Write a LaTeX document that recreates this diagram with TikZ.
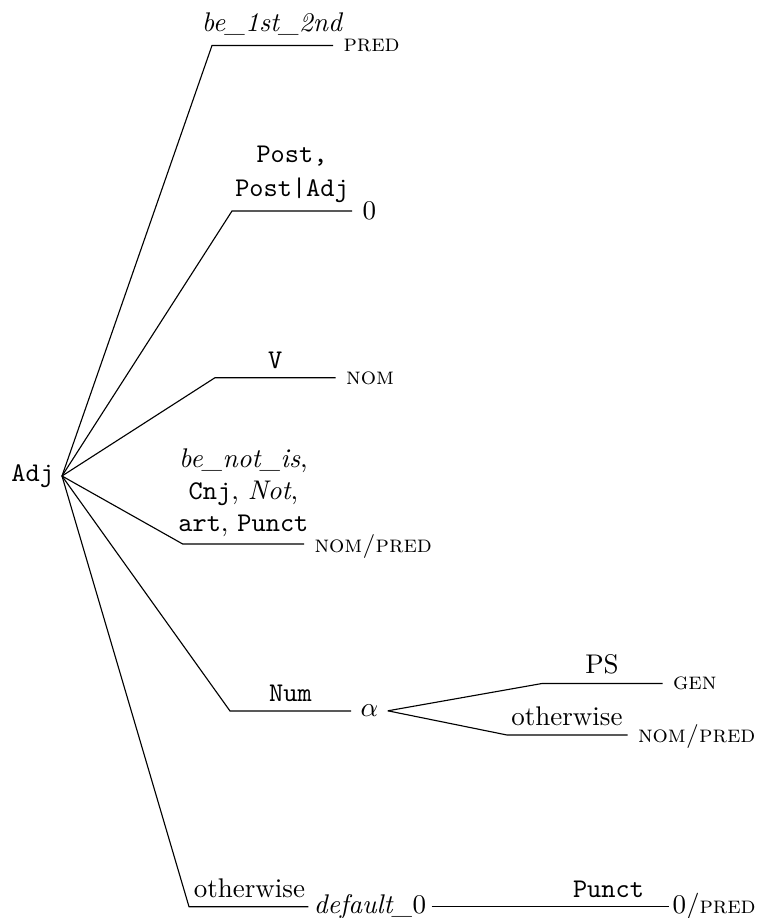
\documentclass[tikz,border=0pt]{standalone}
\newcommand\lsc[1]{{\fontsize{9.6}{11}\selectfont\textsc{#1}}}
\begin{document}
\begin{tikzpicture}[x=0.4pt,y=-0.4pt,
  every node/.style={font=\fontsize{10.8}{13}\selectfont},
  lab/.style={anchor=base, inner sep=0pt, align=center},
  leaf/.style={anchor=base west, inner xsep=4pt, inner ysep=0pt},
  mid/.style={anchor=base, inner xsep=2pt, inner ysep=0pt},
  br/.style={line width=0.45pt}]
\useasboundingbox (0,0) rectangle (756,918);
% root
\node[anchor=east, inner xsep=3pt, inner ysep=0pt] (adj) at (62,476) {\texttt{Adj}};
% corners
\coordinate (c1) at (212,45.5);
\coordinate (c2) at (232,211);
\coordinate (c3) at (215,377.7);
\coordinate (c4) at (182.7,544);
\coordinate (c5) at (230,711);
\coordinate (c5a) at (542,683.5);
\coordinate (c5b) at (507,735);
\coordinate (c6) at (189,906.7);
\coordinate (c7) at (548,906.7);
% leaves and inner nodes
\node[leaf] (l1) at (333,52) {\lsc{pred}};
\node[leaf] (l2) at (352,220) {0};
\node[leaf] (l3) at (335.7,384) {\lsc{nom}};
\node[leaf] (l4) at (304,552) {\lsc{nom/pred}};
\node[mid, inner xsep=3.6pt] (al) at (369.5,716.7) {$\alpha$};
\node[leaf] (l5a) at (662.5,689) {\lsc{gen}};
\node[leaf] (l5b) at (627.5,742) {\lsc{nom/pred}};
\node[mid] (df) at (370,913) {\textit{default\_}0};
\node[leaf, inner xsep=1.2pt] (l7) at (669,913) {0/\lsc{pred}};
% edge labels
\node[lab] (t1) at (272.5,32) {\textit{be\_1st\_2nd}};
\node[lab, font=\fontsize{10.8}{13.6}\selectfont] (t2) at (292,197) {\texttt{Post,}\\\texttt{Post|Adj}};
\node[lab] (t3) at (275.3,368) {\texttt{V}};
\node[lab, font=\fontsize{10.8}{12.8}\selectfont] (t4) at (243.4,531.7) {\textit{be\_not\_is},\\\texttt{Cnj}, \textit{Not},\\\texttt{art}, \texttt{Punct}};
\node[lab] (t5) at (290.5,701) {\texttt{Num}};
\node[lab] (t5a) at (602,673) {PS};
\node[lab] (t5b) at (567,725) {otherwise};
\node[lab] (t6) at (249.5,897) {otherwise};
\node[lab] (t7) at (608.5,897) {\texttt{Punct}};
% branches
\draw[br] (adj.east) -- (c1) -- (c1 -| l1.west);
\draw[br] (adj.east) -- (c2) -- (c2 -| l2.west);
\draw[br] (adj.east) -- (c3) -- (c3 -| l3.west);
\draw[br] (adj.east) -- (c4) -- (c4 -| l4.west);
\draw[br] (adj.east) -- (c5) -- (c5 -| al.west);
\draw[br] (al.east) -- (c5a) -- (c5a -| l5a.west);
\draw[br] (al.east) -- (c5b) -- (c5b -| l5b.west);
\draw[br] (adj.east) -- (c6) -- (c6 -| df.west);
\draw[br] (df.east |- c7) -- (c7) -- (c7 -| l7.west);
\end{tikzpicture}
\end{document}
